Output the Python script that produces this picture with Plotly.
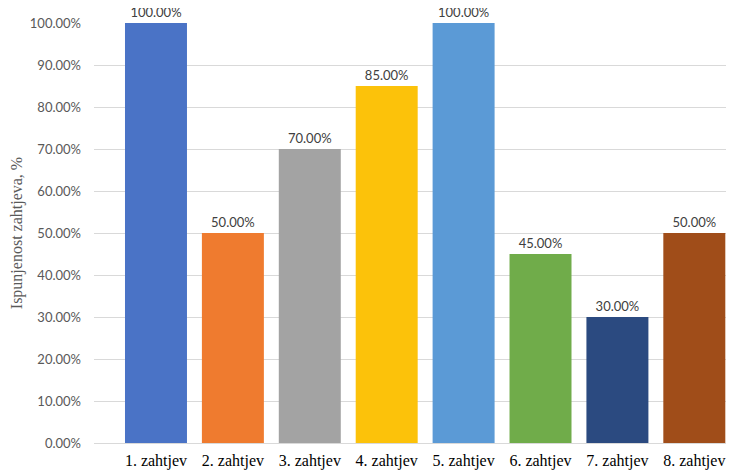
import plotly.graph_objects as go

categories = ["1. zahtjev", "2. zahtjev", "3. zahtjev", "4. zahtjev",
              "5. zahtjev", "6. zahtjev", "7. zahtjev", "8. zahtjev"]
values = [1.00, 0.50, 0.70, 0.85, 1.00, 0.45, 0.30, 0.50]
colors = ["#4a73c6", "#ef7b2f", "#a3a3a3", "#fcc20a",
          "#5b9ad6", "#70ac4a", "#2b4a80", "#a04d19"]

fig = go.Figure(go.Bar(
    x=list(range(len(categories))),
    y=values,
    width=0.806,
    marker=dict(color=colors, line=dict(width=0)),
    text=[f"{v:.2%}" for v in values],
    textposition="outside",
    textfont=dict(family="Lato", size=13, color="#404040"),
    cliponaxis=False,
))

# page body adds 8px offset, so margins are shifted accordingly
fig.update_layout(
    width=734, height=470,
    margin=dict(l=86, r=8, t=15, b=35),
    plot_bgcolor="white", paper_bgcolor="white",
    showlegend=False,
    font=dict(family="Lato", size=13, color="#595959"),
)
fig.update_xaxes(
    range=[-0.806, 7.516],
    tickvals=list(range(len(categories))),
    ticktext=categories,
    tickfont=dict(family="Liberation Serif", size=16, color="black"),
    ticklabelstandoff=6,
    showgrid=False, zeroline=False, showline=False,
    automargin=False,
)
fig.update_yaxes(
    range=[0, 1], dtick=0.1, tickformat=".2%",
    tickfont=dict(family="Lato", size=13, color="#595959"),
    gridcolor="#d9d9d9", gridwidth=1,
    zeroline=True, zerolinecolor="#d9d9d9", zerolinewidth=1,
    ticklabelstandoff=12,
    title=dict(text="Ispunjenost zahtjeva, %", standoff=12,
               font=dict(family="Liberation Serif", size=16, color="#595959")),
    automargin=False,
)

fig.write_html("out.html")
